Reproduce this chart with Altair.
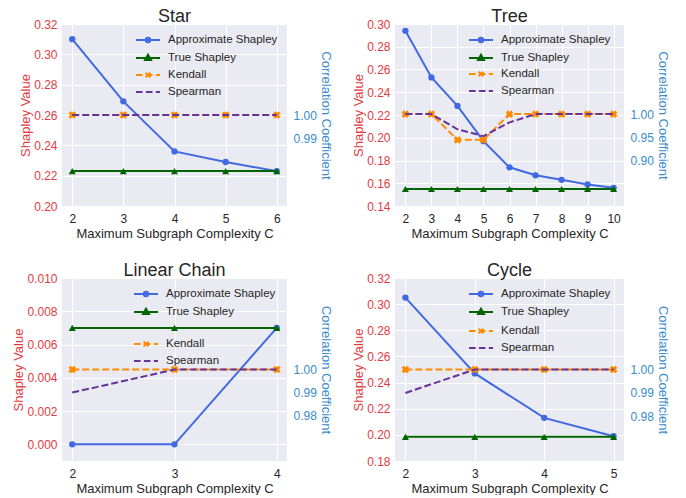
import altair as alt
import pandas as pd

FONT = "Liberation Sans"
RED = "#e23b3f"
BLUE = "#3a8bcb"
C_APPROX = "#4169e1"
C_TRUE = "#006400"
C_KEND = "#ff8c00"
C_SPEAR = "#663399"
TXT = "#262626"
BG = "#EAEAF2"

# ---------------- data ----------------
star_C = [2, 3, 4, 5, 6]
star_approx = [0.310, 0.269, 0.236, 0.229, 0.223]
star_true = [0.223, 0.223, 0.223, 0.223, 0.223]
star_kendall = [1.0, 1.0, 1.0, 1.0, 1.0]
star_spearman = [1.0, 1.0, 1.0, 1.0, 1.0]

tree_C = [2, 3, 4, 5, 6, 7, 8, 9, 10]
tree_approx = [0.294, 0.253, 0.228, 0.197, 0.174, 0.167, 0.163, 0.159, 0.156]
tree_true = [0.155, 0.155, 0.155, 0.155, 0.155, 0.155, 0.155, 0.155, 0.155]
tree_kendall = [1.0, 1.0, 0.944, 0.944, 1.0, 1.0, 1.0, 1.0, 1.0]
tree_spearman = [1.0, 1.0, 0.967, 0.952, 0.982, 1.0, 1.0, 1.0, 1.0]

chain_C = [2, 3, 4]
chain_approx = [0.0, 0.0, 0.007]
chain_true = [0.007, 0.007, 0.007]
chain_kendall = [1.0, 1.0, 1.0]
chain_spearman = [0.99, 1.0, 1.0]

cycle_C = [2, 3, 4, 5]
cycle_approx = [0.305, 0.247, 0.213, 0.199]
cycle_true = [0.1985, 0.1985, 0.1985, 0.1985]
cycle_kendall = [1.0, 1.0, 1.0, 1.0]
cycle_spearman = [0.99, 1.0, 1.0, 1.0]

LEFT_NAMES = ["Approximate Shapley", "True Shapley"]
RIGHT_NAMES = ["Kendall", "Spearman"]

# legend glyphs (line + marker), unit paths
P_APPROX = "M-2,0L2,0M0.38,0A0.38,0.38,0,1,1,-0.38,0A0.38,0.38,0,1,1,0.38,0Z"
P_TRUE = "M-2,0L2,0M0,-0.55L0.5,0.35L-0.5,0.35Z"
P_KEND = "M-2,0L-0.9,0M-0.35,0L0.75,0M1.3,0L2,0M-0.4,-0.4L0.4,0.4M-0.4,0.4L0.4,-0.4"
P_SPEAR = "M-2,0L-0.9,0M-0.35,0L0.75,0M1.3,0L2,0"


def make_legend(x, y):
    return alt.Legend(
        title=None, orient="none", legendX=x, legendY=y, padding=0,
        labelFont=FONT, labelFontSize=11.5, labelColor=TXT, labelLimit=300,
        symbolSize=144, symbolStrokeWidth=2, labelOffset=13, rowPadding=3,
    )


def panel(title, C, approx, true, kendall, spearman, xdom, ldom, lticks, lfmt,
          rdom, rticks, width, height, leg1, leg2):
    df = pd.DataFrame({"C": C, "approx": approx, "true": true,
                       "kendall": kendall, "spearman": spearman})
    xenc = alt.X("C:Q", scale=alt.Scale(domain=xdom, nice=False, zero=False),
                 axis=alt.Axis(values=C, format="d", title="Maximum Subgraph Complexity C",
                               labelColor=TXT, titleColor=TXT, labelPadding=7, titlePadding=3))
    lscale = alt.Scale(domain=ldom, nice=False, zero=False)
    laxis = alt.Axis(values=lticks, format=lfmt, title="Shapley Value", orient="left",
                     labelColor=RED, titleColor=RED, labelPadding=5, titlePadding=1)
    rscale = alt.Scale(domain=rdom, nice=False, zero=False)
    raxis = alt.Axis(values=rticks, format=".2f", title="Correlation Coefficient", orient="right",
                     labelColor=BLUE, titleColor=BLUE, labelPadding=6, titlePadding=2)

    base = alt.Chart(df)

    def line(field, color, scale, axis, dash=None):
        kw = dict(color=color, strokeWidth=2)
        if dash:
            kw["strokeDash"] = dash
        return base.mark_line(**kw).encode(
            x=xenc, y=alt.Y(f"{field}:Q", scale=scale, axis=axis))

    def pts(field, color, shape, size, scale, axis, angle=0):
        kw = dict(shape=shape, filled=True, size=size, color=color, opacity=1)
        if angle:
            kw["angle"] = angle
        return base.mark_point(**kw).encode(
            x=xenc, y=alt.Y(f"{field}:Q", scale=scale, axis=axis))

    gdf = pd.DataFrame({"series": LEFT_NAMES + RIGHT_NAMES})

    def ghost(names, colors, paths, leg):
        return alt.Chart(gdf).transform_filter("false").mark_point(
            filled=False, opacity=1, strokeWidth=2).encode(
            color=alt.Color("series:N", scale=alt.Scale(domain=names, range=colors), legend=leg),
            shape=alt.Shape("series:N", scale=alt.Scale(domain=names, range=paths), legend=leg),
        )

    left = alt.layer(
        line("approx", C_APPROX, lscale, laxis),
        pts("approx", C_APPROX, "circle", 40, lscale, laxis),
        line("true", C_TRUE, lscale, laxis),
        pts("true", C_TRUE, "triangle-up", 50, lscale, laxis),
        ghost(LEFT_NAMES, [C_APPROX, C_TRUE], [P_APPROX, P_TRUE], make_legend(*leg1)),
    )
    right = alt.layer(
        line("kendall", C_KEND, rscale, raxis, dash=[7, 3]),
        pts("kendall", C_KEND, "cross", 60, rscale, raxis, angle=45),
        line("spearman", C_SPEAR, rscale, raxis, dash=[7, 3]),
        ghost(RIGHT_NAMES, [C_KEND, C_SPEAR], [P_KEND, P_SPEAR], make_legend(*leg2)),
    )
    return alt.layer(left, right).resolve_scale(
        y="independent", color="independent", shape="independent"
    ).properties(
        width=width, height=height,
        view=alt.ViewBackground(fill=BG, stroke=None),
        title=alt.TitleParams(title, fontSize=18, font=FONT, color=TXT, frame="group",
                              fontWeight="normal", offset=-8, anchor="middle"),
    )


star = panel("Star", star_C, star_approx, star_true, star_kendall, star_spearman,
             [1.8, 6.2], [0.20, 0.32], [0.20, 0.22, 0.24, 0.26, 0.28, 0.30, 0.32], ".2f",
             [0.961, 1.039], [0.99, 1.00], 225, 182, (79, 9), (79, 44))
tree = panel("Tree", tree_C, tree_approx, tree_true, tree_kendall, tree_spearman,
             [1.6, 10.4], [0.14, 0.30], [0.14, 0.16, 0.18, 0.20, 0.22, 0.24, 0.26, 0.28, 0.30], ".2f",
             [0.80, 1.196], [0.90, 0.95, 1.00], 229, 182, (79, 9), (79, 43))
chain = panel("Linear Chain", chain_C, chain_approx, chain_true, chain_kendall, chain_spearman,
              [1.9, 4.1], [-0.001, 0.010], [0.000, 0.002, 0.004, 0.006, 0.008, 0.010], ".3f",
              [0.9603, 1.0397], [0.98, 0.99, 1.00], 225, 183, (77, 9), (77, 59))
cycle = panel("Cycle", cycle_C, cycle_approx, cycle_true, cycle_kendall, cycle_spearman,
              [1.85, 5.15], [0.18, 0.32], [0.18, 0.20, 0.22, 0.24, 0.26, 0.28, 0.30, 0.32], ".2f",
              [0.961, 1.039], [0.98, 0.99, 1.00], 229, 183, (79, 9), (79, 46))

chart = alt.concat(
    star, tree, chain, cycle,
    columns=2, spacing={"row": 22, "column": 20},
).properties(
    padding={"left": 4, "top": 0, "right": 2, "bottom": 0},
    background="white",
).configure_view(
    fill=BG, stroke=None
).configure_axis(
    labelFont=FONT, labelFontSize=12, titleFont=FONT, titleFontSize=13,
    titleFontWeight="normal", domain=False, ticks=False, grid=True,
    gridColor="white", gridWidth=1, gridOpacity=1,
)

chart.save("out.html", embed_options={"renderer": "svg", "actions": False})
